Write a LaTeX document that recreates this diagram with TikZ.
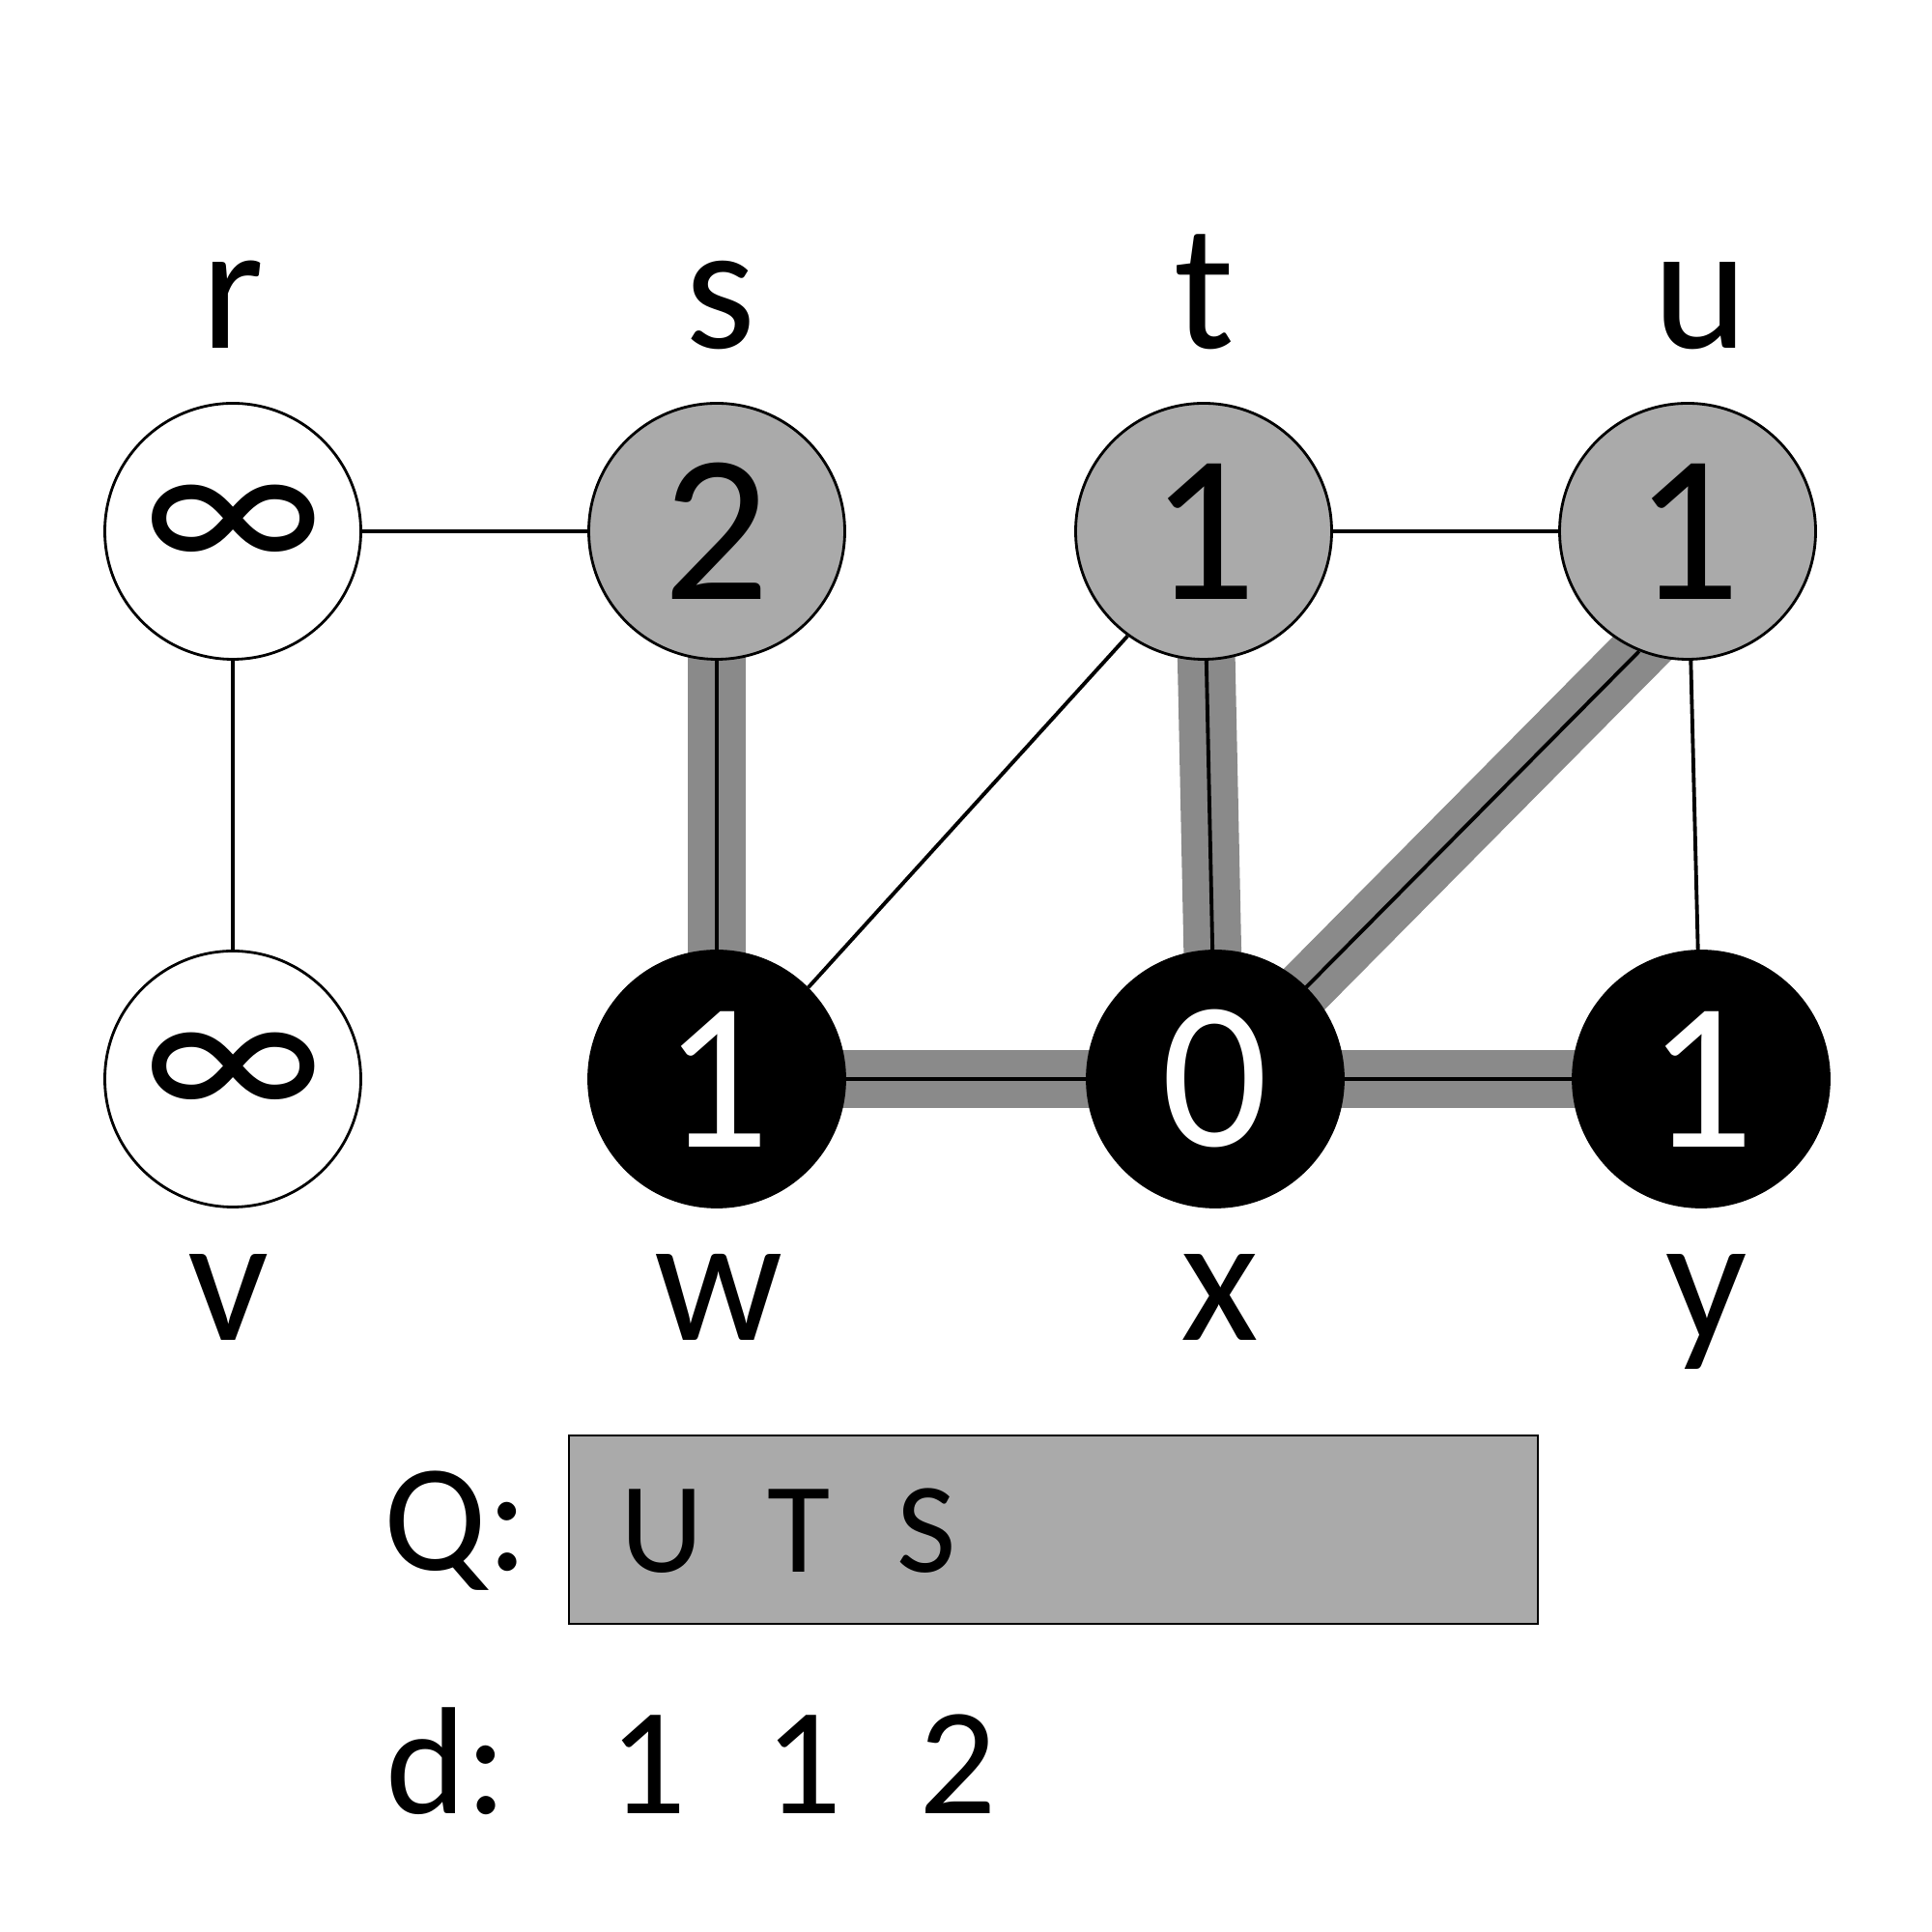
\documentclass[tikz,border=0pt]{standalone}
\usepackage{fontspec}
\setmainfont{Carlito}
\usetikzlibrary{positioning,backgrounds}
\definecolor{nodegray}{HTML}{AAAAAA}
\definecolor{treegray}{HTML}{8A8A8A}

\begin{document}
\begin{tikzpicture}[
    vertex/.style={circle, draw=black, line width=0.8pt, minimum size=2.65cm, inner sep=0pt, font=\fontsize{62}{62}\selectfont},
    white vertex/.style={vertex, fill=white},
    gray vertex/.style={vertex, fill=nodegray},
    black vertex/.style={vertex, fill=black, text=white},
    vlabel/.style={anchor=base, inner sep=0pt, font=\fontsize{53}{53}\selectfont},
    qlabel/.style={anchor=base, inner sep=0pt, font=\fontsize{45}{45}\selectfont},
    qitem/.style={anchor=base, inner sep=0pt, font=\fontsize{38}{38}\selectfont},
    qbox/.style={rectangle, draw=black, line width=0.8pt, fill=nodegray, minimum width=10.03cm, minimum height=1.95cm, inner sep=0pt},
    edge/.style={line width=1.1pt},
    tree edge/.style={line width=17pt, treegray}
]
    \useasboundingbox (0,0) rectangle (20,20);

    % vertices
    \node[white vertex] (r) at (2.41,14.50) {∞};
    \node[gray vertex] (s) at (7.42,14.50) {2};
    \node[gray vertex] (t) at (12.46,14.50) {1};
    \node[gray vertex] (u) at (17.47,14.50) {1};
    \node[white vertex] (v) at (2.41,8.83) {∞};
    \node[black vertex] (w) at (7.42,8.83) {1};
    \node[black vertex] (x) at (12.58,8.83) {0};
    \node[black vertex] (y) at (17.61,8.83) {1};

    % names
    \node[vlabel] (rname) at (2.41,16.39) {r};
    \node[vlabel] (sname) at (7.46,16.39) {s};
    \node[vlabel] (tname) at (12.47,16.39) {t};
    \node[vlabel] (uname) at (17.60,16.39) {u};
    \node[vlabel] (vname) at (2.37,6.12) {v};
    \node[vlabel] (wname) at (7.44,6.12) {w};
    \node[vlabel] (xname) at (12.63,6.12) {x};
    \node[vlabel] (yname) at (17.67,6.12) {y};

    % breadth-first tree
    \begin{scope}[on background layer]
        \draw[tree edge] (s.center) -- (w.center);
        \draw[tree edge] (t.center) -- (x.center);
        \draw[tree edge, shorten >=-0.4cm] (x.center) -- (u.248);
        \draw[tree edge] (w.center) -- (x.center);
        \draw[tree edge] (x.center) -- (y.center);
    \end{scope}

    \draw[edge] (r) -- (s);
    \draw[edge] (r) -- (v);
    \draw[edge] (s) -- (w);
    \draw[edge] (t.234) -- (w.45);
    \draw[edge] (t) -- (u);
    \draw[edge] (t) -- (x);
    \draw[edge] (x) -- (u.248);
    \draw[edge] (u) -- (y);
    \draw[edge] (w) -- (x);
    \draw[edge] (x) -- (y);

    % queue
    \node[qbox] (queue) at (10.905,4.165) {};
    \node[qlabel] (qname) at (4.72,3.74) {Q:};
    \node[qitem] (q1) at (6.85,3.72) {U};
    \node[qitem] (q2) at (8.27,3.72) {T};
    \node[qitem] (q3) at (9.59,3.72) {S};

    \node[qlabel] (dname) at (4.62,1.22) {d:};
    \node[qlabel] (d1) at (6.71,1.22) {1};
    \node[qlabel] (d2) at (8.32,1.22) {1};
    \node[qlabel] (d3) at (9.92,1.22) {2};
\end{tikzpicture}
\end{document}
